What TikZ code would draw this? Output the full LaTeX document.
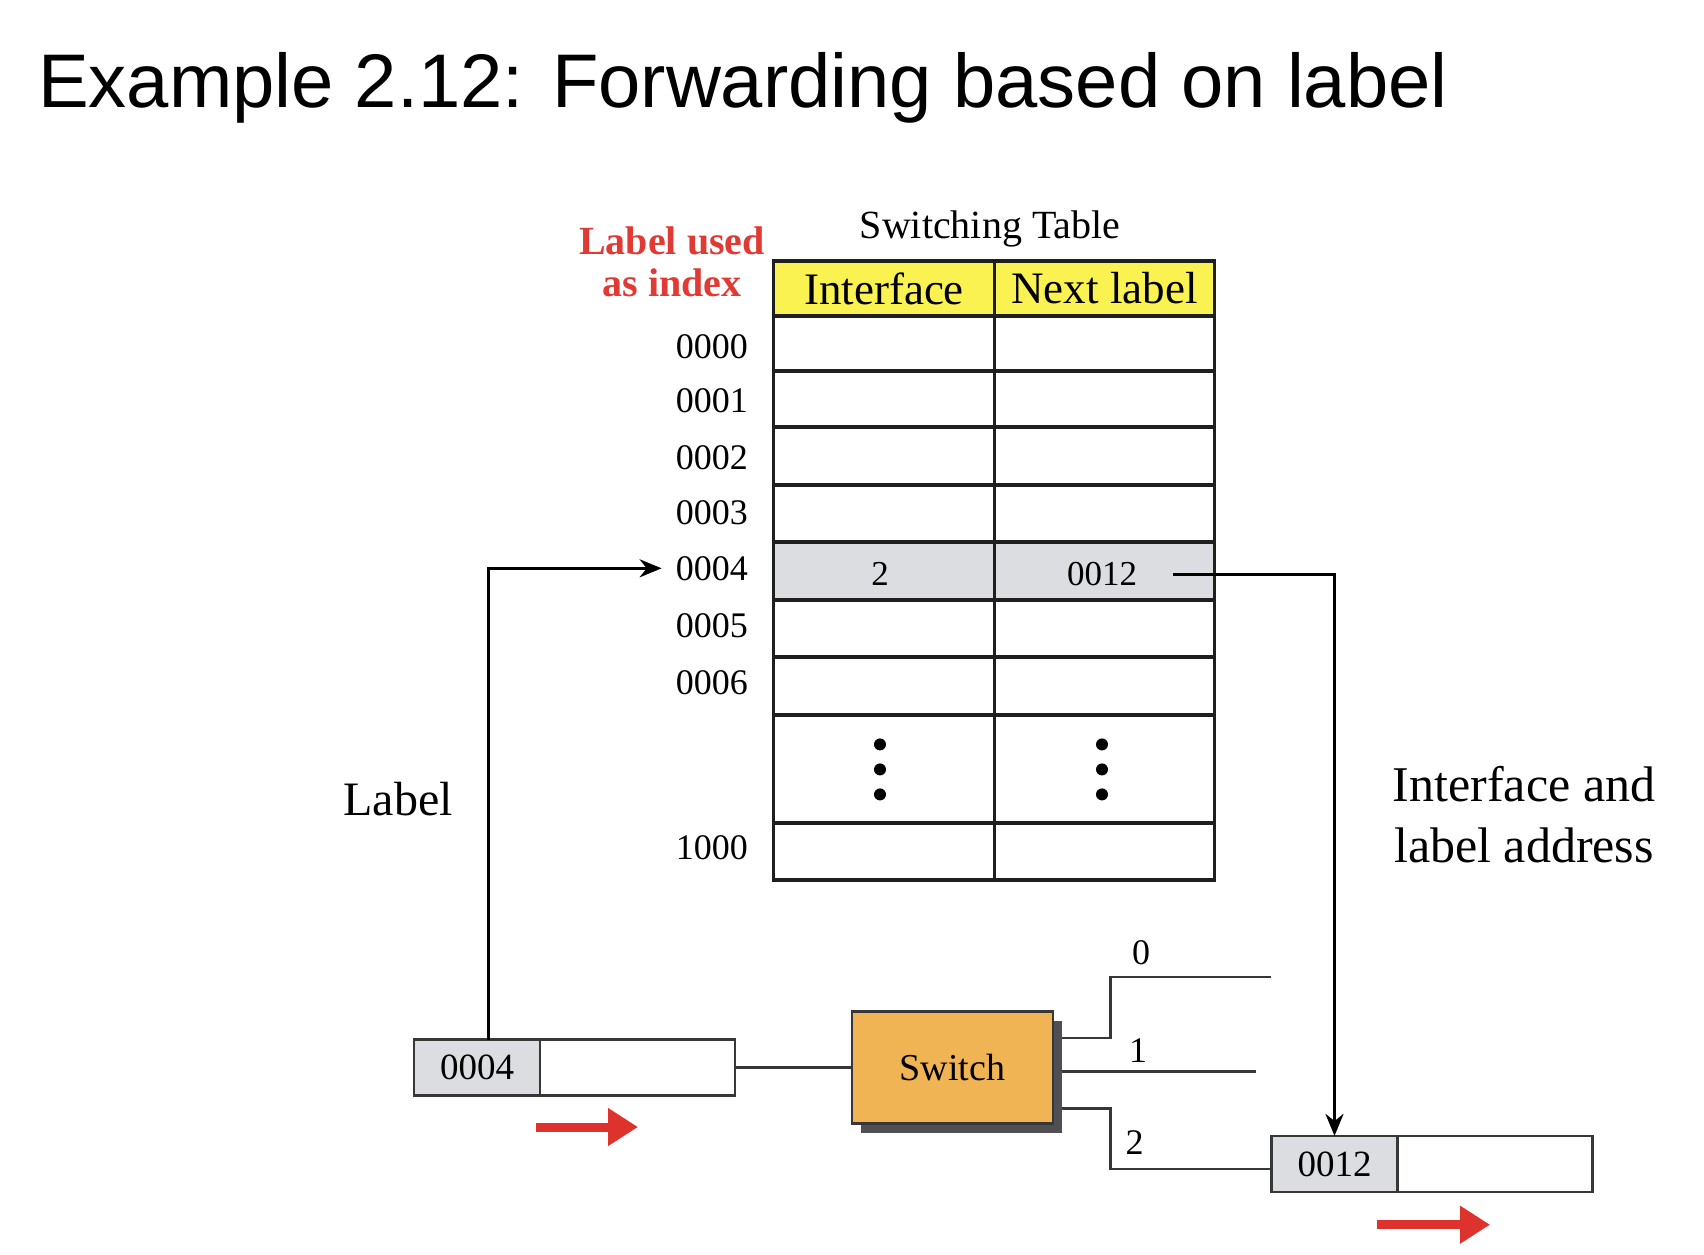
\documentclass[tikz,border=0pt]{standalone}
\usepackage{fontspec}
\setmainfont{Liberation Serif}
\newfontfamily\titlefont{Liberation Sans}
\usetikzlibrary{arrows.meta,shadows}
\definecolor{hdryellow}{RGB}{250,242,80}
\definecolor{rowgray}{RGB}{220,221,224}
\definecolor{labred}{RGB}{224,58,52}
\definecolor{swor}{RGB}{240,180,85}
\definecolor{shad}{RGB}{80,80,84}
\definecolor{linegray}{RGB}{55,55,55}
\definecolor{arrred}{RGB}{222,50,45}
\begin{document}
\begin{tikzpicture}[x=1pt,y=-1pt,
  cell/.style={draw=black!88, line width=3.2pt, minimum width=220.5pt, inner sep=0pt, outer sep=0pt},
  hdrcell/.style={cell, fill=hdryellow, minimum height=55pt, font=\fontsize{45}{50}\selectfont},
  idx/.style={anchor=east, inner sep=0pt, font=\fontsize{36}{40}\selectfont},
  valtxt/.style={inner sep=0pt, font=\fontsize{35}{40}\selectfont},
  conn/.style={draw=black, line width=3pt, -{Stealth[length=22pt,width=18pt]}},
  redarr/.style={draw=arrred, line width=9pt, -{Triangle[length=30pt,width=36pt]}},
  pktgray/.style={draw=linegray, line width=2.6pt, fill=rowgray, minimum width=126pt, minimum height=56pt, inner sep=0pt, outer sep=0pt, font=\fontsize{37}{40}\selectfont},
  pktwhite/.style={draw=linegray, line width=2.6pt, fill=white, minimum width=195pt, minimum height=56pt, inner sep=0pt, outer sep=0pt},
  portline/.style={draw=linegray, line width=2.6pt},
  portlbl/.style={inner sep=0pt, font=\fontsize{36}{40}\selectfont},
  swbox/.style={draw=linegray, line width=2.6pt, fill=swor, minimum width=201pt, minimum height=112pt, inner sep=0pt, outer sep=0pt,
     drop shadow={shadow xshift=9pt, shadow yshift=-9pt, fill=shad, opacity=1}, font=\fontsize{38}{40}\selectfont}
]
\useasboundingbox (0,0) rectangle (1704,1254);

% title
\node[anchor=base west, inner sep=0pt, font=\titlefont\fontsize{76}{80}\selectfont] (title) at (38,107) {Example 2.12: Forwarding based on label};

% table caption and red label
\node[inner sep=0pt, font=\fontsize{40}{44}\selectfont] (cap) at (990,229) {Switching Table};
\node[inner sep=0pt, align=center, text=labred, font=\bfseries\fontsize{40}{42}\selectfont] (red) at (672,262) {Label used\\as index};

% header
\node[hdrcell] (h1) at (884,288.5) {Interface};
\node[hdrcell] (h2) at (1104.5,288.5) {Next label};

% rows
\node[cell, minimum height=55pt] (a0) at (884,343.5) {};
\node[cell, minimum height=55pt] (b0) at (1104.5,343.5) {};
\node[cell, minimum height=56pt] (a1) at (884,399) {};
\node[cell, minimum height=56pt] (b1) at (1104.5,399) {};
\node[cell, minimum height=58pt] (a2) at (884,456) {};
\node[cell, minimum height=58pt] (b2) at (1104.5,456) {};
\node[cell, minimum height=57pt] (a3) at (884,513.5) {};
\node[cell, minimum height=57pt] (b3) at (1104.5,513.5) {};
\node[cell, minimum height=58pt, fill=rowgray] (a4) at (884,571) {};
\node[cell, minimum height=58pt, fill=rowgray] (b4) at (1104.5,571) {};
\node[cell, minimum height=57pt] (a5) at (884,628.5) {};
\node[cell, minimum height=57pt] (b5) at (1104.5,628.5) {};
\node[cell, minimum height=58pt] (a6) at (884,686) {};
\node[cell, minimum height=58pt] (b6) at (1104.5,686) {};
\node[cell, minimum height=108pt] (ad) at (884,769) {};
\node[cell, minimum height=108pt] (bd) at (1104.5,769) {};
\node[cell, minimum height=57pt] (al) at (884,851.5) {};
\node[cell, minimum height=57pt] (bl) at (1104.5,851.5) {};

% dots
\foreach \yy in {744.4,769.4,794.4}{
  \fill (880,\yy) circle (6pt);
  \fill (1102,\yy) circle (6pt);
}

% values
\node[valtxt] (v4a) at (880,574) {2};
\node[valtxt] (v4b) at (1102,574) {0012};

% row indices
\node[idx] (l0) at (748,346.5) {0000};
\node[idx] (l1) at (748,400.9) {0001};
\node[idx] (l2) at (748,457.4) {0002};
\node[idx] (l3) at (748,512.8) {0003};
\node[idx] (l4) at (748,568.3) {0004};
\node[idx] (l5) at (748,625.8) {0005};
\node[idx] (l6) at (748,682.4) {0006};
\node[idx] (l7) at (748,847.5) {1000};

% side labels
\node[inner sep=0pt, font=\fontsize{48}{52}\selectfont] (lab) at (398,799) {Label};
\node[inner sep=0pt, align=center, font=\fontsize{50}{61}\selectfont] (ila) at (1524,815) {Interface and\\label address};

% incoming packet
\node[pktgray] (pag) at (477,1067.7) {0004};
\node[pktwhite, anchor=west] (paw) at (pag.east) {};

% switch
\node[swbox] (sw) at (952.5,1067.7) {Switch};

% outgoing packet
\node[pktgray] (pbg) at (1334.5,1163.9) {0012};
\node[pktwhite, anchor=west] (pbw) at (pbg.east) {};

% lines
\draw[portline] (paw.east) -- (paw.east -| sw.west);
\coordinate (p0s) at (1062,1037.8);
\coordinate (p0e) at (1271.4,976.9);
\coordinate (p1s) at (1062,1071.5);
\coordinate (p1e) at (1256,1071.5);
\coordinate (p2s) at (1062,1108.4);
\draw[portline] (p0s) -- (1110.6,1037.8) |- (p0e);
\draw[portline] (p1s) -- (p1e);
\draw[portline] (p2s) -- (1110.6,1108.4) |- ([yshift=-5pt]pbg.west);
\node[portlbl] (n0) at (1141,953) {0};
\node[portlbl] (n1) at (1138,1051) {1};
\node[portlbl] (n2) at (1134.5,1143) {2};

% connectors
\draw[conn] ([xshift=11pt]pag.north) |- ([xshift=-14pt]l4.west);
\draw[conn] ([xshift=36pt]v4b.east) -| (pbg.north);

% red arrows
\coordinate (ra1s) at (536,1127);
\coordinate (ra1e) at (638,1127);
\coordinate (ra2s) at (1377,1224.7);
\coordinate (ra2e) at (1490,1224.7);
\draw[redarr] (ra1s) -- (ra1e);
\draw[redarr] (ra2s) -- (ra2e);
\end{tikzpicture}
\end{document}
